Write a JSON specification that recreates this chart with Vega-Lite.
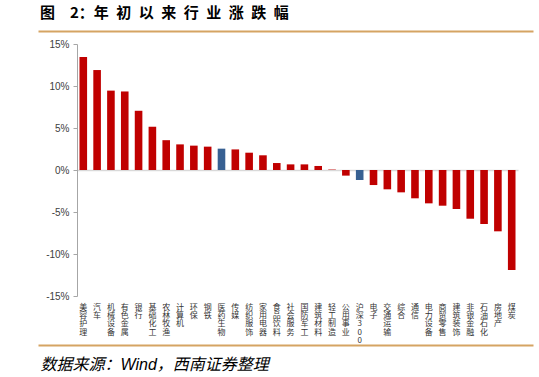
{
  "$schema": "https://vega.github.io/schema/vega-lite/v6.json",
  "width": 495,
  "height": 314,
  "autosize": "none",
  "padding": {"left": 38, "top": 31, "right": 6, "bottom": 32},
  "background": "white",
  "config": {"view": {"stroke": null}},
  "title": {
    "text": "图\u20032：年\u2002初\u2002以\u2002来\u2002行\u2002业\u2002涨\u2002跌\u2002幅",
    "anchor": "start",
    "frame": "group",
    "dx": 2,
    "offset": 10,
    "font": "Noto Sans CJK SC",
    "fontSize": 15,
    "fontWeight": "bold",
    "color": "#000000"
  },
  "data": {
    "values": [
      {"industry": "美容护理", "value": 13.45, "group": "行业"},
      {"industry": "汽车", "value": 11.9, "group": "行业"},
      {"industry": "机械设备", "value": 9.45, "group": "行业"},
      {"industry": "有色金属", "value": 9.35, "group": "行业"},
      {"industry": "银行", "value": 7.05, "group": "行业"},
      {"industry": "基础化工", "value": 5.15, "group": "行业"},
      {"industry": "农林牧渔", "value": 3.55, "group": "行业"},
      {"industry": "计算机", "value": 3.05, "group": "行业"},
      {"industry": "环保", "value": 2.9, "group": "行业"},
      {"industry": "钢铁", "value": 2.78, "group": "行业"},
      {"industry": "医药生物", "value": 2.54, "group": "突出"},
      {"industry": "传媒", "value": 2.45, "group": "行业"},
      {"industry": "纺织服饰", "value": 2.06, "group": "行业"},
      {"industry": "家用电器", "value": 1.75, "group": "行业"},
      {"industry": "食品饮料", "value": 0.83, "group": "行业"},
      {"industry": "社会服务", "value": 0.67, "group": "行业"},
      {"industry": "国防军工", "value": 0.67, "group": "行业"},
      {"industry": "建筑材料", "value": 0.48, "group": "行业"},
      {"industry": "轻工制造", "value": 0.05, "group": "行业"},
      {"industry": "公用事业", "value": -0.67, "group": "行业"},
      {"industry": "沪深300", "value": -1.19, "group": "突出"},
      {"industry": "电子", "value": -1.79, "group": "行业"},
      {"industry": "交通运输", "value": -2.3, "group": "行业"},
      {"industry": "综合", "value": -2.66, "group": "行业"},
      {"industry": "通信", "value": -3.37, "group": "行业"},
      {"industry": "电力设备", "value": -3.97, "group": "行业"},
      {"industry": "商贸零售", "value": -4.25, "group": "行业"},
      {"industry": "建筑装饰", "value": -4.64, "group": "行业"},
      {"industry": "非银金融", "value": -5.8, "group": "行业"},
      {"industry": "石油石化", "value": -6.43, "group": "行业"},
      {"industry": "房地产", "value": -7.3, "group": "行业"},
      {"industry": "煤炭", "value": -11.9, "group": "行业"}
    ]
  },
  "resolve": {"scale": {"y": "independent"}, "axis": {"y": "independent"}},
  "layer": [
    {
      "mark": {"type": "point", "opacity": 0},
      "encoding": {
        "y": {
          "field": "value",
          "type": "quantitative",
          "scale": {"domain": [-20.83, 16.55], "nice": false, "zero": false},
          "axis": {
            "orient": "right",
            "values": [-20.83, 16.55],
            "grid": true,
            "gridColor": "#D5A463",
            "gridWidth": 2,
            "gridOpacity": 1,
            "domain": false,
            "ticks": false,
            "labels": false,
            "title": null
          }
        }
      }
    },
    {
      "mark": {"type": "bar"},
      "encoding": {
        "x": {
          "field": "industry",
          "type": "nominal",
          "sort": null,
          "scale": {"range": [39, 480], "paddingInner": 0.45, "paddingOuter": 0.18},
          "axis": {
            "orient": "bottom",
            "offset": -175,
            "title": "数据来源：Wind，西南证券整理",
            "titleX": 2,
            "titleY": 199,
            "titleAlign": "left",
            "titleBaseline": "alphabetic",
            "titleFont": "Liberation Sans, Noto Sans CJK SC",
            "titleFontSize": 16,
            "titleFontStyle": "italic",
            "titleFontWeight": "normal",
            "titleColor": "#000000",
            "domainColor": "#D9D9D9",
            "domainWidth": 1.5,
            "ticks": false,
            "labelExpr": "split(datum.label, '')",
            "labelAngle": 0,
            "labelPadding": 133,
            "labelFontSize": 8,
            "labelLineHeight": 8.4,
            "labelFont": "Noto Sans CJK SC",
            "labelColor": "#333333",
            "labelBaseline": "top",
            "labelOverlap": false,
            "labelBound": false,
            "labelFlush": false
          }
        },
        "y": {
          "field": "value",
          "type": "quantitative",
          "scale": {"domain": [-15, 15], "range": [265, 13], "nice": false},
          "axis": {
            "orient": "left",
            "values": [-15, -10, -5, 0, 5, 10, 15],
            "labelExpr": "datum.value + '%'",
            "offset": -39,
            "grid": false,
            "domainColor": "#A6A6A6",
            "tickColor": "#A6A6A6",
            "tickSize": 4,
            "labelFont": "Liberation Sans",
            "labelFontSize": 10,
            "labelColor": "#404040",
            "labelPadding": 4,
            "title": null
          }
        },
        "y2": {"datum": 0},
        "color": {
          "field": "group",
          "type": "nominal",
          "scale": {"domain": ["行业", "突出"], "range": ["#C00000", "#376092"]},
          "legend": null
        }
      }
    }
  ]
}
